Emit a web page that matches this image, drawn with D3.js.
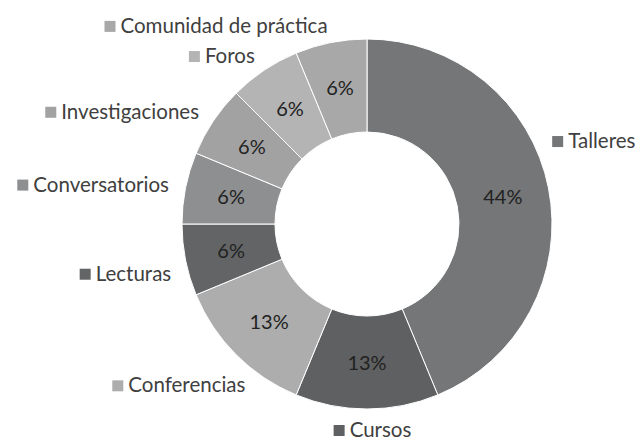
<!DOCTYPE html>
<html>
<head>
<meta charset="utf-8">
<script src="https://cdn.jsdelivr.net/npm/d3@7"></script>
<style>
  body { margin: 0; background: #fff; }
  text { font-family: Lato, "Open Sans", sans-serif; }
</style>
</head>
<body>
<svg id="chart"></svg>
<script>
const width = 644;
const height = 441;

const categories = ["Talleres", "Cursos", "Conferencias", "Lecturas", "Conversatorios", "Investigaciones", "Foros", "Comunidad de práctica"];
const counts = [7, 2, 2, 1, 1, 1, 1, 1];
const colors = ["#747677", "#5e6061", "#adadad", "#626465", "#8e8f90", "#a2a2a2", "#b4b4b4", "#a8a8a8"];
// best-fit nudge of the category labels, degrees
const labelNudge = [-13, 0, -8, -3, 0, 0, 0, 0];

const cx = 367, cy = 224;
const outerR = 185, innerR = 92, labelR = 202;

const svg = d3.select("#chart")
    .attr("width", width)
    .attr("height", height);

const g = svg.append("g")
    .attr("transform", `translate(${cx}, ${cy})`);

const data = categories.map((c, i) => ({ name: c, value: counts[i], color: colors[i], nudge: labelNudge[i] }));
const total = d3.sum(counts);

const pie = d3.pie().sort(null).value(d => d.value);
const arc = d3.arc().innerRadius(innerR).outerRadius(outerR);
const arcs = pie(data);

// slices
g.selectAll(".slice")
    .data(arcs)
    .enter()
    .append("path")
    .attr("class", "slice")
    .attr("d", arc)
    .attr("fill", d => d.data.color)
    .attr("stroke", "#fff")
    .attr("stroke-width", 1);

// percentages
g.selectAll(".pct")
    .data(arcs)
    .enter()
    .append("text")
    .attr("class", "pct")
    .attr("transform", d => `translate(${arc.centroid(d)})`)
    .attr("text-anchor", "middle")
    .attr("dy", "0.35em")
    .attr("font-size", 20)
    .attr("fill", "#222")
    .text(d => Math.round(d.value / total * 100) + "%");

// category labels with marker squares
const labels = g.selectAll(".cat")
    .data(arcs)
    .enter()
    .append("g")
    .attr("class", "cat");

labels.each(function(d) {
    const sel = d3.select(this);
    const a = (d.startAngle + d.endAngle) / 2 + d.data.nudge * Math.PI / 180;
    const x = labelR * Math.sin(a);
    const y = -labelR * Math.cos(a);
    const t = sel.append("text")
        .attr("font-size", 20.5)
        .attr("fill", "#404040")
        .attr("dy", "0.35em")
        .text(d.data.name);
    const w = t.node().getComputedTextLength();
    const block = w + 17;
    let left, ty;
    if (Math.cos(a) < 0 && Math.abs(Math.sin(a)) < 0.1) {
        // bottom: centred below
        left = x - block / 2 + 5;
        ty = y + 4;
    } else if (Math.sin(a) > 0) {
        left = x;
        ty = y;
    } else {
        left = x - block;
        ty = y;
    }
    t.attr("x", left + 17).attr("y", ty);
    sel.append("rect")
        .attr("x", left + 1)
        .attr("y", ty - 5)
        .attr("width", 11)
        .attr("height", 11)
        .attr("fill", d.data.color);
});
</script>
</body>
</html>
